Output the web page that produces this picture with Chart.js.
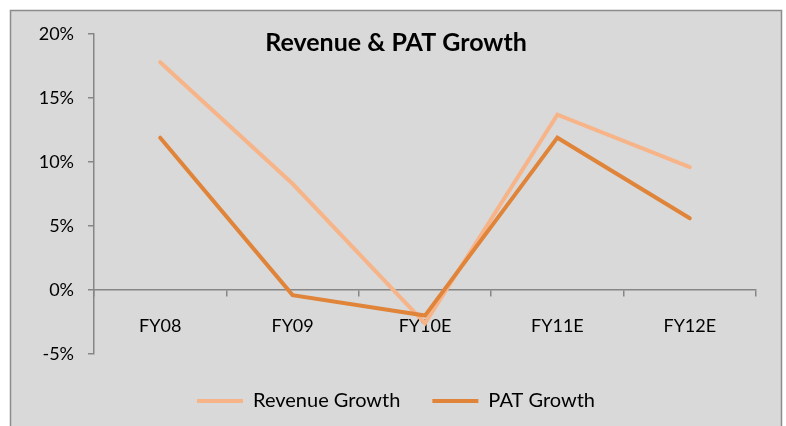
<!DOCTYPE html>
<html>
<head>
<meta charset="utf-8">
<script src="https://cdn.jsdelivr.net/npm/chart.js@4/dist/chart.umd.min.js"></script>
<style>
  html, body { margin: 0; padding: 0; background: #ffffff; }
  #wrap { position: relative; width: 786px; height: 426px; }
</style>
</head>
<body>
<div id="wrap"><canvas id="c" width="786" height="426"></canvas></div>
<script>
const categories = ["FY08", "FY09", "FY10E", "FY11E", "FY12E"];
const revenueGrowth = [0.178, 0.083, -0.026, 0.137, 0.096];
const patGrowth = [0.119, -0.004, -0.020, 0.119, 0.056];
const chartTitle = "Revenue & PAT Growth";
const seriesNames = ["Revenue Growth", "PAT Growth"];

const FONT = "Lato, 'Open Sans', sans-serif";

const bgPlugin = {
  id: 'bg',
  beforeDraw(chart) {
    const ctx = chart.ctx;
    ctx.save();
    ctx.fillStyle = '#ffffff';
    ctx.fillRect(0, 0, chart.width, chart.height);
    ctx.fillStyle = '#d9d9d9';
    ctx.fillRect(10, 10, 772, chart.height);
    ctx.strokeStyle = '#8c8c8c';
    ctx.lineWidth = 1.5;
    ctx.beginPath();
    ctx.moveTo(10.5, chart.height + 2);
    ctx.lineTo(10.5, 10.5);
    ctx.lineTo(781.5, 10.5);
    ctx.lineTo(781.5, chart.height + 2);
    ctx.stroke();
    ctx.restore();
  }
};

const titlePlugin = {
  id: 'innerTitle',
  afterDraw(chart) {
    const ctx = chart.ctx;
    ctx.save();
    ctx.font = "bold 25px " + FONT;
    ctx.fillStyle = '#000000';
    ctx.textAlign = 'center';
    ctx.textBaseline = 'middle';
    ctx.fillText(chartTitle, 396, 43);
    ctx.restore();
  }
};

new Chart(document.getElementById('c'), {
  type: 'line',
  data: {
    labels: categories,
    datasets: [
      {
        label: seriesNames[0],
        data: revenueGrowth,
        borderColor: '#f7b489',
        backgroundColor: '#f7b489',
        borderWidth: 4,
        pointRadius: 0,
        borderCapStyle: 'round',
        tension: 0,
        order: 1
      },
      {
        label: seriesNames[1],
        data: patGrowth,
        borderColor: '#e0843a',
        backgroundColor: '#e0843a',
        borderWidth: 4,
        pointRadius: 0,
        borderCapStyle: 'round',
        tension: 0,
        order: 0
      }
    ]
  },
  plugins: [bgPlugin, titlePlugin],
  options: {
    responsive: false,
    animation: false,
    devicePixelRatio: 1,
    layout: { padding: { left: 36, right: 30, top: 34, bottom: 5 } },
    scales: {
      x: {
        position: { y: 0 },
        offset: true,
        grid: { offset: true, drawOnChartArea: false, drawTicks: true, tickLength: 6, color: '#868686', lineWidth: 1.5 },
        border: { display: true, color: '#868686', width: 1.5 },
        ticks: { color: '#000000', font: { family: FONT, size: 18 }, padding: 19 }
      },
      y: {
        min: -0.05,
        max: 0.2,
        grid: { drawOnChartArea: false, drawTicks: true, tickLength: 6, color: '#868686', lineWidth: 1.5 },
        border: { display: true, color: '#868686', width: 1.5 },
        ticks: {
          stepSize: 0.05,
          color: '#000000',
          font: { family: FONT, size: 18 },
          padding: 14,
          callback: (v) => Math.round(v * 100) + '%'
        },
        afterFit(scale) { scale.width = 58; }
      }
    },
    plugins: {
      title: { display: false },
      tooltip: { enabled: false },
      legend: {
        position: 'bottom',
        title: { display: true, text: '', font: { size: 1, lineHeight: 1 }, padding: { top: 4, bottom: 0 } },
        labels: {
          usePointStyle: true,
          pointStyle: 'line',
          pointStyleWidth: 46,
          color: '#000000',
          font: { family: FONT, size: 20 },
          padding: 32,
          sort: (a, b) => a.datasetIndex - b.datasetIndex
        }
      }
    }
  }
});
</script>
</body>
</html>
